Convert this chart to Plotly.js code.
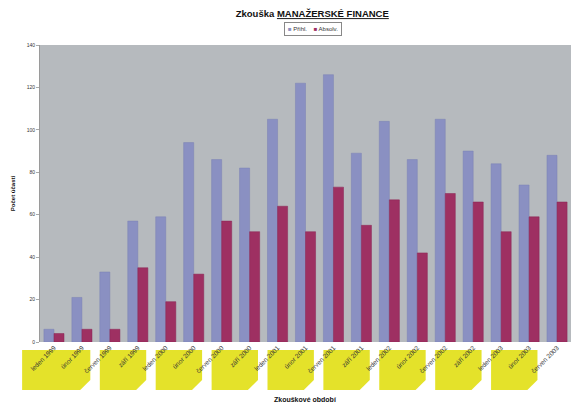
<!DOCTYPE html>
<html>
<head>
<meta charset="utf-8">
<script src="https://cdn.plot.ly/plotly-3.0.1.min.js"></script>
<style>html,body{margin:0;padding:0;background:#fff;}#chart{width:573px;height:406px;}</style>
</head>
<body>
<div id="chart"></div>
<script>
var categories = ["leden 1999","únor 1999","červen 1999","září 1999","leden 2000","únor 2000","červen 2000","září 2000","leden 2001","únor 2001","červen 2001","září 2001","leden 2002","únor 2002","červen 2002","září 2002","leden 2003","únor 2003","červen 2003"];
var prihlaseno = [6, 21, 33, 57, 59, 94, 86, 82, 105, 122, 126, 89, 104, 86, 105, 90, 84, 74, 88];
var absolvovalo = [4, 6, 6, 35, 19, 32, 57, 52, 64, 52, 73, 55, 67, 42, 70, 66, 52, 59, 66];
var seriesNames = ["Přihl.", "Absolv."];
var seriesColors = ["#8a90c2", "#9e3062"];
var yTicks = [0, 20, 40, 60, 80, 100, 120, 140];

var N = categories.length;
var cw = 1 / N;
var shapes = [];
var yTop = -0.027, yBot = -0.162, cutX = 0.019, cutY = 0.034;
for (var k = 0; 2 * k < N - 1; k++) {
  var c = (2 * k + 0.5) * cw;
  var x0 = k === 0 ? c - 1.14 * cw : c - 0.36 * cw;
  var x1 = c + 1.3 * cw;
  shapes.push({
    type: 'path', xref: 'paper', yref: 'paper', layer: 'below',
    path: 'M ' + x0 + ',' + yTop + ' L ' + x1 + ',' + yTop + ' L ' + x1 + ',' + (yBot + cutY) +
          ' L ' + (x1 - cutX) + ',' + yBot + ' L ' + x0 + ',' + yBot + ' Z',
    fillcolor: '#e4e22a', line: {width: 0}
  });
}

var data = [
  {type: 'bar', name: seriesNames[0], x: categories, y: prihlaseno, showlegend: false,
   marker: {color: seriesColors[0], line: {color: '#7a80b4', width: 0.5}}},
  {type: 'bar', name: seriesNames[1], x: categories, y: absolvovalo, showlegend: false,
   marker: {color: seriesColors[1], line: {color: '#8a2555', width: 0.5}}}
];

var legendText = seriesNames.map(function (n, i) {
  return '<span style="color:' + seriesColors[i] + '">■</span> ' + n;
}).join('&nbsp;&nbsp;&nbsp;&nbsp;');

var layout = {
  width: 573, height: 406,
  margin: {l: 40, r: 2, t: 45, b: 64},
  paper_bgcolor: '#ffffff',
  plot_bgcolor: '#b6babe',
  font: {family: 'Liberation Sans, Arial, sans-serif', color: '#222', size: 6},
  title: {
    text: '<b>Zkouška <span style="text-decoration:underline">MANAŽERSKÉ FINANCE</span></b>',
    font: {size: 9.5, color: '#111'},
    x: 0.545, xanchor: 'center', y: 0.966, yanchor: 'middle'
  },
  showlegend: false,
  bargap: 0.28, bargroupgap: 0,
  barmode: 'group',
  xaxis: {
    type: 'category', tickangle: -45, tickfont: {size: 6.5, color: '#333'},
    showgrid: false, showline: false, ticks: '', automargin: false
  },
  yaxis: {
    range: [0, 140], tickvals: yTicks, showgrid: false, zeroline: false,
    showline: true, linecolor: '#9a9a9a', linewidth: 1,
    ticks: 'outside', ticklen: 3, tickcolor: '#aaa',
    tickfont: {size: 5, color: '#333'}, automargin: false,
    title: {text: '<b>Počet účastí</b>', font: {size: 6, color: '#111'}, standoff: 10}
  },
  annotations: [
    {text: legendText, xref: 'paper', yref: 'paper', x: 0.515, y: 1.055,
     xanchor: 'center', yanchor: 'middle', showarrow: false,
     font: {size: 6, color: '#333'}, bgcolor: '#ffffff', bordercolor: '#888',
     borderwidth: 1, borderpad: 3},
    {text: '<b>Zkouškové období</b>', xref: 'paper', yref: 'paper', x: 0.5, y: -0.195,
     xanchor: 'center', yanchor: 'middle', showarrow: false,
     font: {size: 7, color: '#111'}}
  ],
  shapes: shapes
};

Plotly.newPlot('chart', data, layout, {displayModeBar: false, staticPlot: true});
</script>
</body>
</html>
